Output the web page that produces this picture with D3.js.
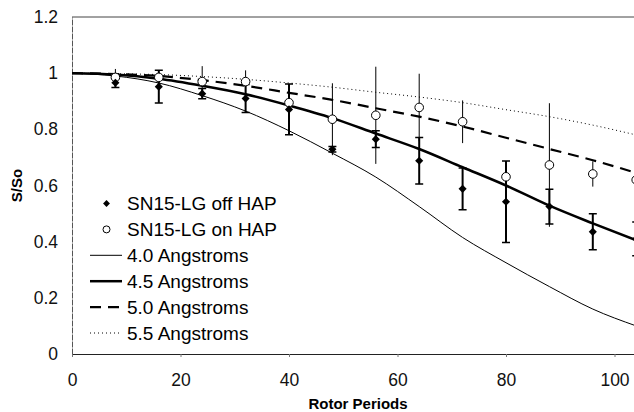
<!DOCTYPE html>
<html>
<head>
<meta charset="utf-8">
<script src="https://cdn.jsdelivr.net/npm/d3@7"></script>
<style>
	body { margin: 0; background: #fff; }
	svg { display: block; }
</style>
</head>
<body>
<svg id="chart"></svg>
<script>
// measured points
const periods = [8, 16, 24, 32, 40, 48, 56, 64, 72, 80, 88, 96, 104];
const offHap = [0.966, 0.952, 0.927, 0.91, 0.871, 0.729, 0.765, 0.688, 0.588, 0.542, 0.525, 0.435, 0.41];
const offHapErr = [0.017, 0.058, 0.018, 0.05, 0.09, 0.01, 0.03, 0.083, 0.074, 0.145, 0.062, 0.064, 0.06];
const onHap = [0.985, 0.985, 0.97, 0.97, 0.895, 0.836, 0.85, 0.878, 0.827, 0.631, 0.673, 0.641, 0.62];
const onHapErr = [0.03, 0.02, 0.055, 0.04, 0.06, 0.128, 0.173, 0.12, 0.076, 0.05, 0.22, 0.045, 0.04];

// simulated curves
const curveX = [0, 8, 16, 24, 32, 40, 48, 56, 64, 72, 80, 88, 96, 104];
const ang40 = [1, 0.99, 0.965, 0.92, 0.865, 0.795, 0.715, 0.63, 0.525, 0.415, 0.325, 0.24, 0.16, 0.1];
const ang45 = [1, 0.995, 0.98, 0.955, 0.925, 0.885, 0.84, 0.785, 0.73, 0.665, 0.6, 0.528, 0.465, 0.405];
const ang50 = [1, 0.997, 0.99, 0.975, 0.955, 0.93, 0.905, 0.875, 0.845, 0.81, 0.77, 0.73, 0.69, 0.645];
const ang55 = [1, 0.998, 0.995, 0.988, 0.978, 0.965, 0.95, 0.932, 0.915, 0.895, 0.87, 0.845, 0.815, 0.78];

const xTicks = [0, 20, 40, 60, 80, 100];
const yTicks = [0, 0.2, 0.4, 0.6, 0.8, 1, 1.2];

const legendNames = ['SN15-LG off HAP', 'SN15-LG on HAP', '4.0 Angstroms', '4.5 Angstroms', '5.0 Angstroms', '5.5 Angstroms'];

const width = 634;
const height = 412;
const marginLeft = 72;
const marginTop = 17;
const plotBottom = 354;

const svg = d3.select('#chart')
	.attr('width', width)
	.attr('height', height)
	.style('font-family', '"Liberation Sans", Arial, sans-serif');

const x = d3.scaleLinear().domain([0, 100]).range([marginLeft, 614.5]);
const y = d3.scaleLinear().domain([0, 1.2]).range([plotBottom, marginTop]);

svg.append('clipPath').attr('id', 'plot-clip')
	.append('rect')
	.attr('x', marginLeft).attr('y', marginTop - 2)
	.attr('width', width - marginLeft).attr('height', plotBottom - marginTop + 4);

// frame: top border
svg.append('line')
	.attr('x1', marginLeft).attr('x2', width)
	.attr('y1', y(1.2)).attr('y2', y(1.2))
	.attr('stroke', '#444').attr('stroke-width', 1);

// axes
svg.append('g')
	.attr('transform', `translate(0,${plotBottom})`)
	.call(d3.axisBottom(x).tickValues(xTicks).tickSize(3).tickPadding(17).tickFormat(d3.format('d')))
	.call((g) => g.select('.domain').attr('d', `M${marginLeft},0.5H${width}`).attr('stroke', '#222'))
	.call((g) => g.selectAll('.tick line').attr('stroke', '#777'))
	.call((g) => g.selectAll('.tick text').attr('font-size', 17.5).attr('fill', '#111'));

svg.append('g')
	.attr('transform', `translate(${marginLeft},0)`)
	.call(d3.axisLeft(y).tickValues(yTicks).tickSize(0).tickPadding(14).tickFormat((d) => String(+d.toFixed(1))))
	.call((g) => g.select('.domain').attr('stroke', '#555').attr('stroke-dasharray', '6,1'))
	.call((g) => g.selectAll('.tick text').attr('font-size', 17.5).attr('fill', '#111'));

// axis titles
svg.append('text')
	.attr('x', 358).attr('y', 409)
	.attr('text-anchor', 'middle')
	.attr('font-size', 15).attr('font-weight', 'bold')
	.text('Rotor Periods');

svg.append('text')
	.attr('transform', `translate(22,${(marginTop + plotBottom) / 2}) rotate(-90)`)
	.attr('text-anchor', 'middle')
	.attr('font-size', 15).attr('font-weight', 'bold')
	.text('S/So');

const plot = svg.append('g').attr('clip-path', 'url(#plot-clip)');

const lineStyles = [
	{ data: ang40, width: 1, dash: null },
	{ data: ang45, width: 2.5, dash: null },
	{ data: ang50, width: 2.2, dash: '11,7' },
	{ data: ang55, width: 1, dash: '1,3' },
];

const line = d3.line()
	.x((d, i) => x(curveX[i]))
	.y((d) => y(d))
	.curve(d3.curveMonotoneX);

plot.selectAll('path.model')
	.data(lineStyles)
	.join('path')
	.attr('class', 'model')
	.attr('fill', 'none')
	.attr('stroke', '#000')
	.attr('stroke-width', (d) => d.width)
	.attr('stroke-dasharray', (d) => d.dash)
	.attr('d', (d) => line(d.data));

// on HAP error bars (thin, no caps)
const onData = periods.map((p, i) => ({ p, v: onHap[i], e: onHapErr[i] }));
const offData = periods.map((p, i) => ({ p, v: offHap[i], e: offHapErr[i] }));

plot.append('g').selectAll('line')
	.data(onData)
	.join('line')
	.attr('x1', (d) => x(d.p)).attr('x2', (d) => x(d.p))
	.attr('y1', (d) => y(d.v + d.e)).attr('y2', (d) => y(d.v - d.e))
	.attr('stroke', '#000').attr('stroke-width', 1);

// off HAP error bars (bold with caps)
const offBars = plot.append('g');
offBars.selectAll('line.bar')
	.data(offData)
	.join('line')
	.attr('class', 'bar')
	.attr('x1', (d) => x(d.p)).attr('x2', (d) => x(d.p))
	.attr('y1', (d) => y(d.v + d.e)).attr('y2', (d) => y(d.v - d.e))
	.attr('stroke', '#000').attr('stroke-width', 2);
offBars.selectAll('path.cap')
	.data(offData)
	.join('path')
	.attr('class', 'cap')
	.attr('d', (d) => `M${x(d.p) - 4},${y(d.v + d.e)}H${x(d.p) + 4}M${x(d.p) - 4},${y(d.v - d.e)}H${x(d.p) + 4}`)
	.attr('stroke', '#000').attr('stroke-width', 1.5);

// markers
const diamond = d3.symbol().type(d3.symbolDiamond2).size(42);

plot.append('g').selectAll('circle')
	.data(onData)
	.join('circle')
	.attr('cx', (d) => x(d.p)).attr('cy', (d) => y(d.v))
	.attr('r', 4.3)
	.attr('fill', '#fff').attr('stroke', '#000').attr('stroke-width', 1);

plot.append('g').selectAll('path')
	.data(offData)
	.join('path')
	.attr('transform', (d) => `translate(${x(d.p)},${y(d.v)})`)
	.attr('d', diamond)
	.attr('fill', '#000');

// legend
const legend = svg.append('g');
const legendY = (i) => 203.5 + i * 25.9;

legend.selectAll('text')
	.data(legendNames)
	.join('text')
	.attr('x', 127)
	.attr('y', (d, i) => legendY(i))
	.attr('dy', '0.35em')
	.attr('font-size', 19)
	.attr('fill', '#000')
	.text((d) => d);

legend.append('path')
	.attr('transform', `translate(106.5,${legendY(0)})`)
	.attr('d', d3.symbol().type(d3.symbolDiamond2).size(30))
	.attr('fill', '#000');

legend.append('circle')
	.attr('cx', 106.5).attr('cy', legendY(1)).attr('r', 3.5)
	.attr('fill', '#fff').attr('stroke', '#000');

legend.selectAll('line')
	.data(lineStyles)
	.join('line')
	.attr('x1', 90).attr('x2', 122)
	.attr('y1', (d, i) => legendY(i + 2)).attr('y2', (d, i) => legendY(i + 2))
	.attr('stroke', '#000')
	.attr('stroke-width', (d) => d.width)
	.attr('stroke-dasharray', (d) => d.dash);
</script>
</body>
</html>
